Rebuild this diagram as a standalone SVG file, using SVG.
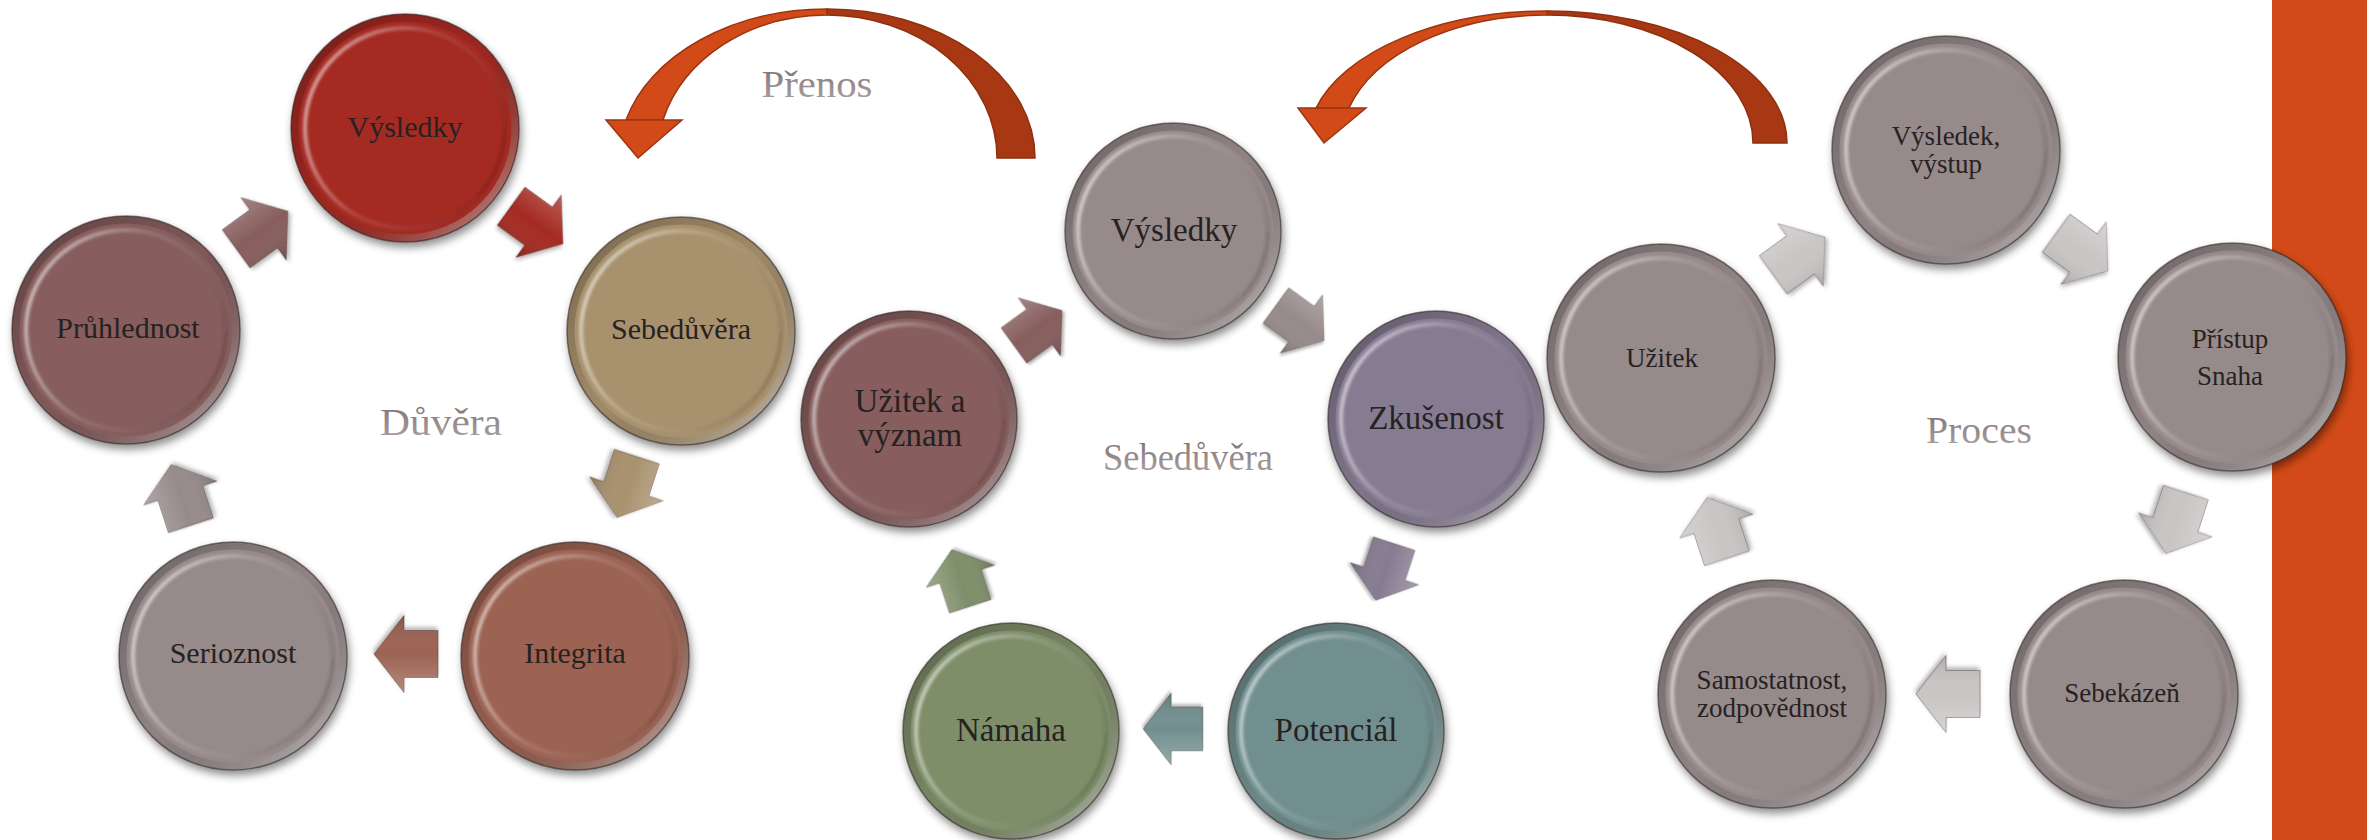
<svg xmlns="http://www.w3.org/2000/svg" width="2367" height="840" viewBox="0 0 2367 840">
<defs>
<style>
.disc{filter:url(#shadow);stroke:rgba(40,25,25,0.55);stroke-width:1.5}
.rim{fill:none;stroke:url(#rimG);stroke-width:7}
.bev{fill:none;stroke:url(#bevG);stroke-width:4;filter:url(#soft)}
.tl{font-size:30px;fill:#262222;text-anchor:middle}
.tm{font-size:33px;fill:#262222;text-anchor:middle}
.tr{font-size:27px;fill:#262222;text-anchor:middle}
.lbl{font-size:38px;text-anchor:middle;fill:url(#lblG)}
.arw{filter:url(#ashadow);stroke:rgba(40,25,25,0.35);stroke-width:1}
.ashade{fill:url(#arrG)}
.cfront{fill:#D24A18;stroke:#9A3412;stroke-width:1.5}
.cback{fill:#A73813;stroke:#8E3010;stroke-width:1.5}
</style>
<filter id="shadow" x="-20%" y="-20%" width="140%" height="150%">
<feDropShadow dx="2" dy="5" stdDeviation="4" flood-color="#000" flood-opacity="0.45"/>
</filter>
<filter id="ashadow" x="-30%" y="-30%" width="160%" height="160%">
<feDropShadow dx="1" dy="3" stdDeviation="2" flood-color="#000" flood-opacity="0.3"/>
</filter>
<filter id="soft" x="-10%" y="-10%" width="120%" height="120%">
<feGaussianBlur stdDeviation="1.5"/>
</filter>
<linearGradient id="rimG" x1="0" y1="0" x2="1" y2="1">
<stop offset="0" stop-color="#000" stop-opacity="0.28"/>
<stop offset="0.5" stop-color="#000" stop-opacity="0.05"/>
<stop offset="1" stop-color="#fff" stop-opacity="0.6"/>
</linearGradient>
<linearGradient id="bevG" x1="0" y1="0.3" x2="1" y2="0.7">
<stop offset="0" stop-color="#fff" stop-opacity="0.6"/>
<stop offset="0.45" stop-color="#fff" stop-opacity="0.12"/>
<stop offset="1" stop-color="#000" stop-opacity="0.15"/>
</linearGradient>
<linearGradient id="arrG" x1="0" y1="0" x2="0" y2="1">
<stop offset="0" stop-color="#fff" stop-opacity="0.25"/>
<stop offset="0.5" stop-color="#fff" stop-opacity="0"/>
<stop offset="1" stop-color="#000" stop-opacity="0.15"/>
</linearGradient>
<linearGradient id="lblG" x1="0" y1="0" x2="0" y2="1">
<stop offset="0" stop-color="#7C6F71"/>
<stop offset="1" stop-color="#AFA4A5"/>
</linearGradient>
<path id="cyc" d="M -32 -23.5 L 2 -23.5 L 2 -38.5 L 32 0 L 2 38.5 L 2 23.5 L -32 23.5 Z"/>
</defs>

<rect x="0" y="0" width="2367" height="840" fill="#FFFFFF"/>
<rect id="side-bar" x="2272" y="0" width="95" height="840" fill="#D24A17"/>

<g id="connectors">
<use href="#cyc" class="arw" fill="#A42C22" transform="translate(537 225) rotate(36)"/>
<use href="#cyc" class="ashade" transform="translate(537 225) rotate(36)"/>
<use href="#cyc" class="arw" fill="#A8916D" transform="translate(627 487) rotate(108)"/>
<use href="#cyc" class="ashade" transform="translate(627 487) rotate(108)"/>
<use href="#cyc" class="arw" fill="#9C6452" transform="translate(406 654) rotate(180)"/>
<use href="#cyc" class="ashade" transform="translate(406 654) rotate(180)"/>
<use href="#cyc" class="arw" fill="#978A8B" transform="translate(181 495) rotate(252)"/>
<use href="#cyc" class="ashade" transform="translate(181 495) rotate(252)"/>
<use href="#cyc" class="arw" fill="#875D5D" transform="translate(262 230) rotate(324)"/>
<use href="#cyc" class="ashade" transform="translate(262 230) rotate(324)"/>
<use href="#cyc" class="arw" fill="#978A8B" transform="translate(1300 323) rotate(36) scale(0.93)"/>
<use href="#cyc" class="ashade" transform="translate(1300 323) rotate(36) scale(0.93)"/>
<use href="#cyc" class="arw" fill="#867C92" transform="translate(1385 572) rotate(108) scale(0.93)"/>
<use href="#cyc" class="ashade" transform="translate(1385 572) rotate(108) scale(0.93)"/>
<use href="#cyc" class="arw" fill="#728F8F" transform="translate(1173 729) rotate(180) scale(0.93)"/>
<use href="#cyc" class="ashade" transform="translate(1173 729) rotate(180) scale(0.93)"/>
<use href="#cyc" class="arw" fill="#7E8E69" transform="translate(961 578) rotate(252) scale(0.93)"/>
<use href="#cyc" class="ashade" transform="translate(961 578) rotate(252) scale(0.93)"/>
<use href="#cyc" class="arw" fill="#875D5D" transform="translate(1038 328) rotate(324) scale(0.93)"/>
<use href="#cyc" class="ashade" transform="translate(1038 328) rotate(324) scale(0.93)"/>
<use href="#cyc" class="arw" fill="#C9C5C5" transform="translate(2082 252) rotate(36)"/>
<use href="#cyc" class="ashade" transform="translate(2082 252) rotate(36)"/>
<use href="#cyc" class="arw" fill="#C9C5C5" transform="translate(2176 523) rotate(108)"/>
<use href="#cyc" class="ashade" transform="translate(2176 523) rotate(108)"/>
<use href="#cyc" class="arw" fill="#C9C5C5" transform="translate(1948 694) rotate(180)"/>
<use href="#cyc" class="ashade" transform="translate(1948 694) rotate(180)"/>
<use href="#cyc" class="arw" fill="#C9C5C5" transform="translate(1717 528) rotate(252)"/>
<use href="#cyc" class="ashade" transform="translate(1717 528) rotate(252)"/>
<use href="#cyc" class="arw" fill="#C9C5C5" transform="translate(1799 256) rotate(324)"/>
<use href="#cyc" class="ashade" transform="translate(1799 256) rotate(324)"/>
<path class="cback" d="M 1035 158 A 208 149 0 0 0 827 9 L 827 15 A 170 143 0 0 1 997 158 Z"/>
<path class="cfront" d="M 827 9 A 208 149 0 0 0 626 120 L 663 120 A 170 143 0 0 1 827 15 Z"/>
<path class="cfront" d="M 606 120 L 682 120 L 638 158 Z"/>
<path class="cback" d="M 1787 143 A 240 132 0 0 0 1547 11 L 1547 15 A 206 128 0 0 1 1753 143 Z"/>
<path class="cfront" d="M 1547 11 A 240 132 0 0 0 1316 108 L 1349 108 A 206 128 0 0 1 1547 15 Z"/>
<path class="cfront" d="M 1298 108 L 1366 108 L 1324 143 Z"/>
</g>

<g id="nodes" font-family="'Liberation Serif', 'Times New Roman', serif">
<g id="l-vysledky">
<circle class="disc" cx="405" cy="128" r="114" fill="#A42C22"/>
<circle class="rim" cx="405" cy="128" r="110"/>
<circle class="bev" cx="405" cy="128" r="100"/>
<text class="tl" x="405" y="137">Výsledky</text>
</g>
<g id="l-sebeduvera">
<circle class="disc" cx="681" cy="331" r="114" fill="#A8916D"/>
<circle class="rim" cx="681" cy="331" r="110"/>
<circle class="bev" cx="681" cy="331" r="100"/>
<text class="tl" x="681" y="339">Sebedůvěra</text>
</g>
<g id="l-integrita">
<circle class="disc" cx="575" cy="656" r="114" fill="#9C6452"/>
<circle class="rim" cx="575" cy="656" r="110"/>
<circle class="bev" cx="575" cy="656" r="100"/>
<text class="tl" x="575" y="663">Integrita</text>
</g>
<g id="l-serioznost">
<circle class="disc" cx="233" cy="656" r="114" fill="#978A8B"/>
<circle class="rim" cx="233" cy="656" r="110"/>
<circle class="bev" cx="233" cy="656" r="100"/>
<text class="tl" x="233" y="663">Serioznost</text>
</g>
<g id="l-pruhlednost">
<circle class="disc" cx="126" cy="330" r="114" fill="#875D5D"/>
<circle class="rim" cx="126" cy="330" r="110"/>
<circle class="bev" cx="126" cy="330" r="100"/>
<text class="tl" x="128" y="338">Průhlednost</text>
</g>

<g id="m-vysledky">
<circle class="disc" cx="1173" cy="231" r="108" fill="#978A8B"/>
<circle class="rim" cx="1173" cy="231" r="104"/>
<circle class="bev" cx="1173" cy="231" r="95"/>
<text class="tm" x="1174" y="241">Výsledky</text>
</g>
<g id="m-zkusenost">
<circle class="disc" cx="1436" cy="419" r="108" fill="#867C92"/>
<circle class="rim" cx="1436" cy="419" r="104"/>
<circle class="bev" cx="1436" cy="419" r="95"/>
<text class="tm" x="1436" y="429">Zkušenost</text>
</g>
<g id="m-potencial">
<circle class="disc" cx="1336" cy="731" r="108" fill="#728F8F"/>
<circle class="rim" cx="1336" cy="731" r="104"/>
<circle class="bev" cx="1336" cy="731" r="95"/>
<text class="tm" x="1336" y="741">Potenciál</text>
</g>
<g id="m-namaha">
<circle class="disc" cx="1011" cy="731" r="108" fill="#7E8E69"/>
<circle class="rim" cx="1011" cy="731" r="104"/>
<circle class="bev" cx="1011" cy="731" r="95"/>
<text class="tm" x="1011" y="741">Námaha</text>
</g>
<g id="m-uzitek">
<circle class="disc" cx="909" cy="419" r="108" fill="#875D5D"/>
<circle class="rim" cx="909" cy="419" r="104"/>
<circle class="bev" cx="909" cy="419" r="95"/>
<text class="tm" x="910" y="412">Užitek a</text>
<text class="tm" x="910" y="446">význam</text>
</g>

<g id="r-vysledek">
<circle class="disc" cx="1946" cy="150" r="114" fill="#978A8B"/>
<circle class="rim" cx="1946" cy="150" r="110"/>
<circle class="bev" cx="1946" cy="150" r="100"/>
<text class="tr" x="1946" y="145">Výsledek,</text>
<text class="tr" x="1946" y="173">výstup</text>
</g>
<g id="r-pristup">
<circle class="disc" cx="2232" cy="357" r="114" fill="#978A8B"/>
<circle class="rim" cx="2232" cy="357" r="110"/>
<circle class="bev" cx="2232" cy="357" r="100"/>
<text class="tr" x="2230" y="348">Přístup</text>
<text class="tr" x="2230" y="385">Snaha</text>
</g>
<g id="r-sebekazen">
<circle class="disc" cx="2124" cy="694" r="114" fill="#978A8B"/>
<circle class="rim" cx="2124" cy="694" r="110"/>
<circle class="bev" cx="2124" cy="694" r="100"/>
<text class="tr" x="2122" y="702">Sebekázeň</text>
</g>
<g id="r-samostatnost">
<circle class="disc" cx="1772" cy="694" r="114" fill="#978A8B"/>
<circle class="rim" cx="1772" cy="694" r="110"/>
<circle class="bev" cx="1772" cy="694" r="100"/>
<text class="tr" x="1772" y="689">Samostatnost,</text>
<text class="tr" x="1772" y="717">zodpovědnost</text>
</g>
<g id="r-uzitek">
<circle class="disc" cx="1661" cy="358" r="114" fill="#978A8B"/>
<circle class="rim" cx="1661" cy="358" r="110"/>
<circle class="bev" cx="1661" cy="358" r="100"/>
<text class="tr" x="1662" y="367">Užitek</text>
</g>
</g>

<g id="labels" font-family="'Liberation Serif', 'Times New Roman', serif">
<text id="label-prenos" class="lbl" x="817" y="97" textLength="111" lengthAdjust="spacingAndGlyphs">Přenos</text>
<text id="label-duvera" class="lbl" x="441" y="435" textLength="122" lengthAdjust="spacingAndGlyphs">Důvěra</text>
<text id="label-sebeduvera" class="lbl" x="1188" y="470" textLength="170" lengthAdjust="spacingAndGlyphs">Sebedůvěra</text>
<text id="label-proces" class="lbl" x="1979" y="443" textLength="106" lengthAdjust="spacingAndGlyphs">Proces</text>
</g>
</svg>
